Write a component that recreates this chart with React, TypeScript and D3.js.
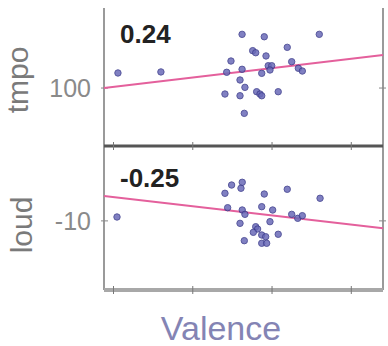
import * as d3 from "d3";

// valence (x) shared range, y ranges per panel
const xDomain = [-0.56, 1.2];
const xTicks = [-0.5, 0, 0.5, 1];
const tmpoDomain = [49.6, 169.6];
const loudDomain = [-19.6, 0.4];
const tmpoTicks = [100];
const loudTicks = [-10];

const valenceTop = [-0.472, -0.201, 0.311, 0.451, 0.798, 0.596, 0.378, 0.397, 0.462, 0.241, 0.624, 0.214, 0.311, 0.435,
  0.476, 0.498, 0.487, 0.666, 0.691, 0.298, 0.329, 0.203, 0.298, 0.403, 0.424, 0.435, 0.539, 0.325];
const tmpo = [113.1, 114.0, 146.7, 144.6, 146.7, 135.4, 132.5, 130.7, 127.9, 123.5, 122.9, 113.7, 116.3, 112.8,
  119.4, 119.4, 115.7, 117.2, 114.8, 107.0, 100.6, 94.8, 93.3, 96.8, 94.8, 93.3, 96.8, 78.0];

const valenceBottom = [-0.478, 0.245, 0.312, 0.304, 0.203, 0.451, 0.596, 0.803, 0.22, 0.312, 0.329, 0.435, 0.504, 0.624,
  0.662, 0.691, 0.298, 0.487, 0.397, 0.409, 0.382, 0.435, 0.46, 0.539, 0.325, 0.435, 0.466];
const loud = [-9.46, -5.02, -4.64, -5.47, -6.17, -6.27, -5.61, -6.86, -8.17, -8.49, -9.09, -8.03, -8.49, -9.09,
  -9.64, -9.28, -10.34, -10.11, -10.81, -11.13, -11.59, -11.96, -12.2, -11.86, -12.75, -13.11, -13.11];

// least squares fit lines [intercept, slope] and correlations
const fitTmpo = [109.1, 16.3];
const fitLoud = [-7.97, -2.55];
const corrLabels = ["0.24", "-0.25"];
const yLabels = ["tmpo", "loud"];
const xLabel = "Valence";

const W = 388, H = 346;
const left = 104, right = 383;
const panels = [{top: 8, bottom: 146}, {top: 146, bottom: 290}];

const font = "Arial, 'Liberation Sans', sans-serif";

const Panel = ({idx, xs, ys, domain, ticks, fit}) => {
  const p = panels[idx];
  const x = d3.scaleLinear().domain(xDomain).range([left, right]);
  const y = d3.scaleLinear().domain(domain).range([p.bottom, p.top]);
  const line = d3.line().x(d => x(d)).y(d => y(fit[0] + fit[1] * d));
  return (
    <g>
      <line x1={left} x2={left} y1={p.top} y2={p.bottom} stroke="#9a9a9a" strokeWidth={2}/>
      <line x1={right} x2={right} y1={p.top} y2={p.bottom} stroke="#9a9a9a" strokeWidth={2}/>
      {ticks.map(t => (
        <g key={t}>
          <line x1={left - 3} x2={left + 4} y1={y(t)} y2={y(t)} stroke="#888" strokeWidth={1}/>
          <line x1={right - 4} x2={right + 3} y1={y(t)} y2={y(t)} stroke="#888" strokeWidth={1}/>
          <text x={91} y={y(t)} dy="0.36em" textAnchor="end" fontSize={25} fill="#8a8a8a" fontFamily={font}>{t}</text>
        </g>
      ))}
      <path d={line(xDomain)} stroke="#e4609c" strokeWidth={2} fill="none"/>
      {xs.map((v, i) => (
        <circle key={i} cx={x(v)} cy={y(ys[i])} r={3.2} fill="#6a6ab8" stroke="#3c3c8c" strokeWidth={1} opacity={0.85}/>
      ))}
      <text x={120} y={idx === 0 ? 43 : 187} fontSize={26} fontWeight="bold" fill="#222" fontFamily={font}>{corrLabels[idx]}</text>
      <text transform={`translate(${idx === 0 ? 28 : 32},${idx === 0 ? 80 : 225}) rotate(-90)`} textAnchor="middle"
            fontSize={30} fill="#7a7a7a" fontFamily={font}>{yLabels[idx]}</text>
    </g>
  );
};

export default function App() {
  const x = d3.scaleLinear().domain(xDomain).range([left, right]);
  return (
    <div style={{position: "absolute", left: 0, top: 0}}>
      <svg width={W} height={H} style={{display: "block", background: "#fff"}}>
        <Panel idx={0} xs={valenceTop} ys={tmpo} domain={tmpoDomain} ticks={tmpoTicks} fit={fitTmpo}/>
        <Panel idx={1} xs={valenceBottom} ys={loud} domain={loudDomain} ticks={loudTicks} fit={fitLoud}/>
        <line x1={left} x2={right} y1={146} y2={146} stroke="#555" strokeWidth={3}/>
        <line x1={left} x2={right} y1={290} y2={290} stroke="#a8a8a8" strokeWidth={4}/>
        {xTicks.map(t => (
          <g key={t}>
            <line x1={x(t)} x2={x(t)} y1={142} y2={150} stroke="#777" strokeWidth={1}/>
            <line x1={x(t)} x2={x(t)} y1={286} y2={294} stroke="#777" strokeWidth={1}/>
          </g>
        ))}
        <text x={221} y={340} textAnchor="middle" fontSize={34} fill="#8484b4" fontFamily={font}>{xLabel}</text>
      </svg>
    </div>
  );
}
